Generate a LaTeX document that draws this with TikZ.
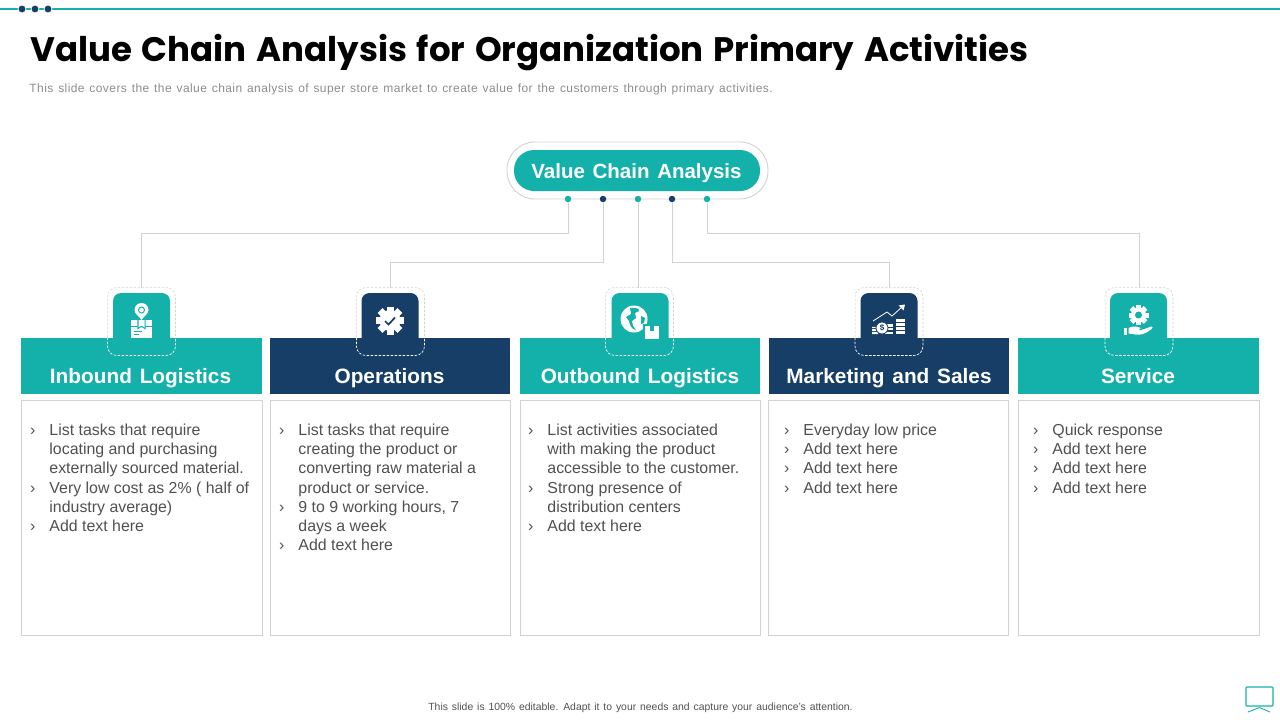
\documentclass[tikz,border=0pt]{standalone}
\usepackage{fontspec}
\setmainfont[WordSpace=1.35]{Liberation Sans}
\newfontfamily\titlefont[WordSpace=1.35]{Poppins}
\newfontfamily\bodyfont{Liberation Sans}
\newfontfamily\subfont[LetterSpace=3.5,WordSpace=1.3]{Liberation Sans}
\usetikzlibrary{positioning,calc}
\definecolor{tealc}{HTML}{14B1AB}
\definecolor{navyc}{HTML}{163E66}
\definecolor{linec}{HTML}{D2D2D2}
\definecolor{textc}{HTML}{505050}
\newcommand{\bul}{\makebox[0pt][r]{›\hspace{14pt}}}

\begin{document}
\begin{tikzpicture}[x=1pt, y=-1pt, line width=0.9pt,
    title/.style={font=\fontsize{34}{40}\titlefont\bfseries, anchor=west, inner sep=0pt},
    subtitle/.style={font=\fontsize{12}{14}\subfont, text=gray!90, anchor=west, inner sep=0pt},
    header/.style={minimum height=56pt, inner sep=0pt},
    hdrtext/.style={text=white, inner sep=0pt, text height=15pt, text depth=4pt,
                    font=\fontsize{20.8}{24}\selectfont\bfseries},
    body/.style={draw=linec, minimum height=235pt, inner sep=0pt},
    bodytext/.style={font=\fontsize{15.9}{19.2}\bodyfont, text=textc, align=left,
                     anchor=north west, inner sep=0pt},
    tile/.style={minimum width=57pt, minimum height=57pt, rounded corners=8pt, inner sep=0pt},
    frame/.style={minimum width=67pt, minimum height=67pt, inner sep=0pt},
    frameup/.style={draw=linec, dash pattern=on 2.5pt off 1.5pt, line width=0.6pt, rounded corners=9pt},
    framelow/.style={draw=white, dash pattern=on 2.5pt off 1.5pt, line width=0.7pt, rounded corners=9pt},
    conn/.style={draw=linec},
    pin/.style={circle, minimum size=6.5pt, inner sep=0pt},
    topdot/.style={circle, fill=navyc, draw=white, line width=0.8pt, minimum size=8pt, inner sep=0pt}
]
\useasboundingbox (0,0) rectangle (1280,720);

% ============================
% Top rule and headings
% ============================
\coordinate (ruleL) at (0,9);
\coordinate (ruleR) at (1280,9);
\draw[tealc, line width=1.6pt] (ruleL) -- (ruleR);
\node[topdot] (topA) at (22,9) {};
\node[topdot] (topB) at (35,9) {};
\node[topdot] (topC) at (48,9) {};
\node[title] (mainTitle) at (30,52.5) {Value Chain Analysis for Organization Primary Activities};
\node[subtitle] (mainSub) at (29,89) {This slide covers the the value chain analysis of super store market to create value for the customers through primary activities.};

% ============================
% Root pill
% ============================
\node[draw=linec, fill=white, rounded corners=28pt, minimum width=261pt, minimum height=57pt] (rootOuter) at (637.5,170.5) {};
\node[fill=tealc, rounded corners=20pt, minimum width=246pt, minimum height=41pt, inner sep=0pt] (root) at (637,170.5) {};
\node[hdrtext, font=\fontsize{20.5}{24}\selectfont\bfseries] (rootLbl) at (636.5,172.5) {Value Chain Analysis};
\node[pin, fill=tealc] (dotA) at (568,199) {};
\node[pin, fill=navyc] (dotB) at (603,199) {};
\node[pin, fill=tealc] (dotC) at (638,199) {};
\node[pin, fill=navyc] (dotD) at (672,199) {};
\node[pin, fill=tealc] (dotE) at (707,199) {};

% ============================
% Tiles, headers, boxes
% ============================
\node[tile, fill=tealc] (tileA) at (141.5,321.5) {};
\node[tile, fill=navyc] (tileB) at (390,321.5) {};
\node[tile, fill=tealc] (tileC) at (640,321.5) {};
\node[tile, fill=navyc] (tileD) at (889,321.5) {};
\node[tile, fill=tealc] (tileE) at (1138.5,321.5) {};

\node[header, fill=tealc, minimum width=241pt] (hdrA) at (141.5,366) {};
\node[header, fill=navyc, minimum width=240pt] (hdrB) at (390,366) {};
\node[header, fill=tealc, minimum width=240pt] (hdrC) at (640,366) {};
\node[header, fill=navyc, minimum width=240pt] (hdrD) at (889,366) {};
\node[header, fill=tealc, minimum width=241pt] (hdrE) at (1138.5,366) {};
\node[hdrtext] (lblA) at (140.5,377.5) {Inbound Logistics};
\node[hdrtext] (lblB) at (389.5,377.5) {Operations};
\node[hdrtext] (lblC) at (640,377.5) {Outbound Logistics};
\node[hdrtext] (lblD) at (889,377.5) {Marketing and Sales};
\node[hdrtext] (lblE) at (1138,377.5) {Service};

% Frames round the tiles
\node[frame] (frameA) at (141.5,321.5) {};
\node[frame] (frameB) at (390.5,321.5) {};
\node[frame] (frameC) at (639.5,321.5) {};
\node[frame] (frameD) at (889,321.5) {};
\node[frame] (frameE) at (1139,321.5) {};

% Boxes
\node[body, minimum width=241pt] (bodyA) at (142,518) {};
\node[body, minimum width=240pt] (bodyB) at (390.5,518) {};
\node[body, minimum width=240pt] (bodyC) at (640,518) {};
\node[body, minimum width=240pt] (bodyD) at (888.5,518) {};
\node[body, minimum width=241pt] (bodyE) at (1139,518) {};

\node[bodytext] (txtA) at (49,423.5) {\bul List tasks that require\\locating and purchasing\\externally sourced material.\\\bul Very low cost as 2\% ( half of\\industry average)\\\bul Add text here};
\node[bodytext] (txtB) at (298,423.5) {\bul List tasks that require\\creating the product or\\converting raw material a\\product or service.\\\bul 9 to 9 working hours, 7\\days a week\\\bul Add text here};
\node[bodytext] (txtC) at (547,423.5) {\bul List activities associated\\with making the product\\accessible to the customer.\\\bul Strong presence of\\distribution centers\\\bul Add text here};
\node[bodytext] (txtD) at (803,423.5) {\bul Everyday low price\\\bul Add text here\\\bul Add text here\\\bul Add text here};
\node[bodytext] (txtE) at (1052,423.5) {\bul Quick response\\\bul Add text here\\\bul Add text here\\\bul Add text here};

% ============================
% Connectors
% ============================
\draw[conn] (dotA) -- ++(0,34) -| (frameA.north);
\draw[conn] (dotB) -- ++(0,63) -| (frameB.north);
\draw[conn] (dotC) -- (dotC |- frameC.north);
\draw[conn] (dotD) -- ++(0,63) -| (frameD.north);
\draw[conn] (dotE) -- ++(0,34) -| (frameE.north);

% Dashes grey over white, white over the headers
\draw[frameup] (frameA.west |- hdrA.north) -- (frameA.north west) -- (frameA.north east) -- (frameA.east |- hdrA.north);
\draw[frameup] (frameB.west |- hdrB.north) -- (frameB.north west) -- (frameB.north east) -- (frameB.east |- hdrB.north);
\draw[frameup] (frameC.west |- hdrC.north) -- (frameC.north west) -- (frameC.north east) -- (frameC.east |- hdrC.north);
\draw[frameup] (frameD.west |- hdrD.north) -- (frameD.north west) -- (frameD.north east) -- (frameD.east |- hdrD.north);
\draw[frameup] (frameE.west |- hdrE.north) -- (frameE.north west) -- (frameE.north east) -- (frameE.east |- hdrE.north);
\draw[framelow] (frameA.west |- hdrA.north) -- (frameA.south west) -- (frameA.south east) -- (frameA.east |- hdrA.north);
\draw[framelow] (frameB.west |- hdrB.north) -- (frameB.south west) -- (frameB.south east) -- (frameB.east |- hdrB.north);
\draw[framelow] (frameC.west |- hdrC.north) -- (frameC.south west) -- (frameC.south east) -- (frameC.east |- hdrC.north);
\draw[framelow] (frameD.west |- hdrD.north) -- (frameD.south west) -- (frameD.south east) -- (frameD.east |- hdrD.north);
\draw[framelow] (frameE.west |- hdrE.north) -- (frameE.south west) -- (frameE.south east) -- (frameE.east |- hdrE.north);

% ============================
% Icons
% ============================
% Box with location pin
\begin{scope}[shift={(141.5,321.5)}]
    \fill[white] (-10.5,-1.5) rectangle (10.5,16.5);
    \draw[tealc, line width=0.8pt] (-10.5,4.5) -- (10.5,4.5);
    \fill[tealc] (-4.2,-1.5) -- (-4.2,8) -- (0,5.5) -- (4.2,8) -- (4.2,-1.5) -- cycle;
    \fill[white] (-3,-1.5) -- (-3,5.8) -- (0,4) -- (3,5.8) -- (3,-1.5) -- cycle;
    \draw[tealc, line width=0.7pt] (-8,10) -- (0,10) (-8,12.5) -- (-3,12.5);
    \fill[white] (0,-1.5) .. controls (-2,-5) and (-7,-7.5) .. (-7,-11.5) arc (180:360:7) .. controls (7,-7.5) and (2,-5) .. (0,-1.5) -- cycle;
    \draw[tealc, line width=1pt] (0,-11.5) circle (3);
\end{scope}
% Gear with tick
\begin{scope}[shift={(390,320.5)}]
    \fill[white] (0,0) circle (10.5);
    \foreach \ang in {0,45,...,315} {
        \fill[white, rotate=\ang] (-3.5,-14) rectangle (3.5,-7);
    }
    \draw[navyc, line width=1.7pt] (-5,0.5) -- (-1.5,4) -- (5,-3);
\end{scope}
% Globe with parcel
\begin{scope}[shift={(634,319)}]
    \fill[white] (0,0) circle (13.5);
    \fill[tealc] (-4,-11) .. controls (2,-12) and (6,-10) .. (5,-8) -- (1,-6) -- (2,-1) -- (-2,2) -- (-1,7) -- (2,11) .. controls (-3,10) and (-4,6) .. (-5,2) -- (-8,-2) -- (-3,-5) -- cycle;
    \fill[tealc] (7,-3) -- (11,-1) -- (10,4) -- (7,5) -- cycle;
    \fill[tealc] (9,5) rectangle (27,22);
    \fill[white] (11,7) rectangle (25,20);
    \fill[tealc] (15.5,7) rectangle (20,12);
\end{scope}
% Growth chart
\begin{scope}[shift={(889,321)}]
    \foreach \row in {0,1,2,3} {
        \fill[white] (7,{13-\row*4}) rectangle (16,{13-\row*4-2.6});
    }
    \foreach \row in {0,1,2} {
        \fill[white] (-4,{13-\row*3.7}) rectangle (4,{13-\row*3.7-2.4});
    }
    \fill[white] (-17,11) rectangle (-11,13) (-17,8) rectangle (-11,10) (-17,5.8) rectangle (-11,7);
    \draw[navyc, fill=white, line width=0.8pt] (-7,7) circle (6);
    \node[text=navyc, font=\fontsize{8}{8}\bodyfont\bfseries, inner sep=0pt] (usd) at (-7,7) {\$};
    \draw[white, line width=0.8pt] (-16,0) -- (-2,-9) -- (3,-5) -- (13,-14);
    \fill[white] (16,-16.5) -- (9.5,-15.5) -- (14.5,-10.5) -- cycle;
\end{scope}
% Hand with gear
\begin{scope}[shift={(1138.5,321)}]
    \fill[white] (0,-6) circle (7.5);
    \foreach \ang in {0,45,...,315} {
        \fill[white, rotate around={\ang:(0,-6)}] (-2.5,-16) rectangle (2.5,-11);
    }
    \fill[tealc] (0,-6) circle (3.5);
    \fill[white] (-14.5,6.5) rectangle (-11.5,13.5);
    \fill[white] (-10,7) .. controls (-5,4.5) and (-1,5.5) .. (2,7) -- (0,9.5) -- (6,8) -- (13,5.5) .. controls (14.5,6) and (14.5,7) .. (13,8) .. controls (8,12.5) and (2,14.5) .. (-3,13.5) -- (-10,12.5) -- cycle;
\end{scope}

% ============================
% Footer
% ============================
\node[font=\fontsize{10.4}{12}\selectfont, text=textc, inner sep=0pt] (footer) at (640.5,708) {This slide is 100\% editable. Adapt it to your needs and capture your audience's attention.};
\node[draw=tealc, line width=1.1pt, rounded corners=1pt, minimum width=27pt, minimum height=19pt, inner sep=0pt] (screen) at (1259.5,696.5) {};
\coordinate (legL) at (1248,712);
\coordinate (legR) at (1270,712);
\coordinate (legM) at ($(screen.south)+(0,1)$);
\draw[tealc] (legL) -- (legM) -- (legR);

\end{tikzpicture}
\end{document}
